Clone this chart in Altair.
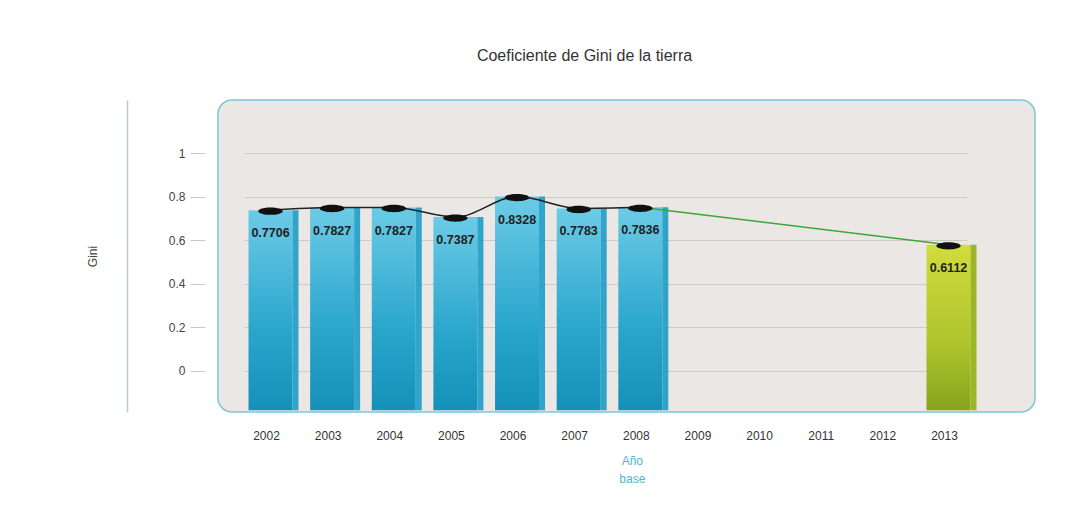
import altair as alt
import pandas as pd

# ---- data ----
years = ["2002", "2003", "2004", "2005", "2006", "2007", "2008",
         "2009", "2010", "2011", "2012", "2013"]
data_years = ["2002", "2003", "2004", "2005", "2006", "2007", "2008", "2013"]
gini = [0.7706, 0.7827, 0.7827, 0.7387, 0.8328, 0.7783, 0.7836, 0.6112]
group = ["base", "base", "base", "base", "base", "base", "base", "meta"]
y_ticks = [0, 0.2, 0.4, 0.6, 0.8, 1]
title_text = "Coeficiente de Gini de la tierra"
y_title = "Gini"
note_year = ["2008"]
note_text = ["Año base"]

df = pd.DataFrame({"year": data_years, "gini": gini, "group": group})
note_df = pd.DataFrame({"year": note_year, "text": note_text})

FONT = "Liberation Sans"
W, H = 817, 312
BASE = -0.182

xscale = alt.Scale(domain=years, range=[26, 749], paddingInner=0.27, paddingOuter=0)
yscale = alt.Scale(domain=[-0.19, 1.245], nice=False, zero=False)

x_axis = alt.Axis(title=None, labelAngle=0, ticks=False, domain=False,
                  labelPadding=18, labelFontSize=12, labelColor="#333",
                  labelFont=FONT, grid=False)
x_enc = alt.X("year:N", scale=xscale, sort=years, axis=x_axis)

base = alt.Chart(df)

blue_grad = alt.Gradient(gradient="linear", x1=0, x2=0, y1=0, y2=1,
                         stops=[alt.GradientStop(color="#6ccbe6", offset=0),
                                alt.GradientStop(color="#2aa6cd", offset=0.6),
                                alt.GradientStop(color="#1590b8", offset=1)])
green_grad = alt.Gradient(gradient="linear", x1=0, x2=0, y1=0, y2=1,
                          stops=[alt.GradientStop(color="#d2dc3c", offset=0),
                                 alt.GradientStop(color="#aec42c", offset=0.6),
                                 alt.GradientStop(color="#86a41c", offset=1)])

bars_blue = base.transform_filter(alt.datum.group == "base").mark_bar(
    fill=blue_grad, size=44, xOffset=4, yOffset=7
).encode(
    x=x_enc,
    y=alt.Y("gini:Q", scale=yscale,
            axis=alt.Axis(orient="left", title=y_title, values=y_ticks, labels=False,
                          ticks=False, grid=False, domain=True, domainColor="#b9cbd6",
                          domainWidth=1.5, offset=91, titlePadding=28,
                          titleFont=FONT, titleFontSize=12, titleFontWeight="normal",
                          titleColor="#444")),
    y2=alt.Y2(datum=BASE),
)

side_blue = base.transform_filter(alt.datum.group == "base").mark_bar(
    color="#1d9cc6", size=6, xOffset=29, yOffset=7, opacity=0.9
).encode(
    x=x_enc,
    y=alt.Y("gini:Q", scale=yscale,
            axis=alt.Axis(orient="left", title=None, values=y_ticks, grid=True,
                          gridColor="#d2c9c6", gridWidth=1.2, domain=False,
                          tickSize=15, tickColor="#c9c9c9", offset=13, labelPadding=5,
                          format="~g",
                          labelFont=FONT, labelFontSize=12, labelColor="#444")),
    y2=alt.Y2(datum=BASE),
)

bars_green = base.transform_filter(alt.datum.group == "meta").mark_bar(
    fill=green_grad, size=44, xOffset=4, yOffset=7
).encode(x=x_enc, y=alt.Y("gini:Q", scale=yscale, axis=None), y2=alt.Y2(datum=BASE))

side_green = base.transform_filter(alt.datum.group == "meta").mark_bar(
    color="#9bb626", size=6, xOffset=29, yOffset=7
).encode(x=x_enc, y=alt.Y("gini:Q", scale=yscale, axis=None), y2=alt.Y2(datum=BASE))

line_black = base.transform_filter(alt.datum.group == "base").mark_line(
    color="#222", strokeWidth=1.5, interpolate="monotone", xOffset=4, yOffset=7
).encode(x=x_enc, y=alt.Y("gini:Q", scale=yscale, axis=None))

line_green = base.transform_filter(
    alt.FieldOneOfPredicate(field="year", oneOf=["2008", "2013"])
).mark_line(color="#3aa83a", strokeWidth=1.5, xOffset=4, yOffset=7).encode(
    x=x_enc, y=alt.Y("gini:Q", scale=yscale, axis=None))

ellipse = "M -1 0 A 1 0.3 0 1 1 1 0 A 1 0.3 0 1 1 -1 0 Z"
dots = base.mark_point(shape=ellipse, size=600, filled=True, color="#111",
                       opacity=1, xOffset=4, yOffset=8).encode(
    x=x_enc, y=alt.Y("gini:Q", scale=yscale, axis=None))

labels = base.mark_text(font=FONT, fontSize=12.5, fontWeight="bold", color="#222",
                        dy=30, dx=4, baseline="middle").encode(
    x=x_enc, y=alt.Y("gini:Q", scale=yscale, axis=None),
    text=alt.Text("gini:Q", format=".4f"))

note = alt.Chart(note_df).mark_text(
    font=FONT, fontSize=12, color="#4fb4da", lineBreak=" ", lineHeight=18,
    baseline="top", dx=-4
).encode(x=x_enc, y=alt.value(H + 44), text="text:N")

chart = alt.layer(
    bars_blue, side_blue, bars_green, side_green, line_black, line_green, dots,
    labels, note
).resolve_axis(y="independent").properties(
    width=W, height=H,
    background="white",
    title=alt.TitleParams(title_text, font=FONT, fontSize=16, fontWeight="normal",
                          color="#333", frame="group", dx=-42, offset=36),
    autosize=alt.AutoSizeParams(type="none"),
    padding={"left": 210, "top": 92, "right": 35, "bottom": 80},
).configure_view(
    fill="#ebe7e5", stroke="#7ec6dd", strokeWidth=1.5, cornerRadius=14
)

chart.save("out.html", embed_options={"renderer": "svg", "actions": False})
